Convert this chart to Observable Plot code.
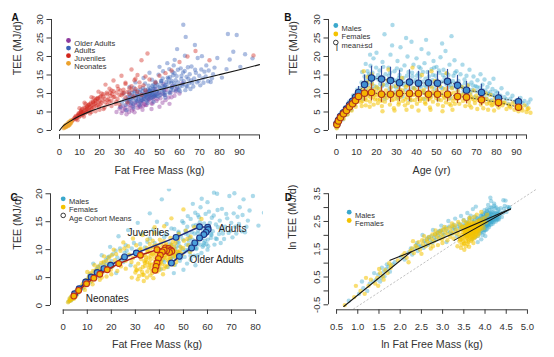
<!DOCTYPE html>
<html><head><meta charset="utf-8">
<script src="https://cdn.jsdelivr.net/npm/d3@7"></script>
<script src="https://cdn.jsdelivr.net/npm/@observablehq/plot@0.6"></script>
<style>
body{margin:0;background:#fff;}
#wrap{position:relative;width:554px;height:357px;overflow:hidden;}
.panel{position:absolute;}
</style></head><body><div id="wrap"></div>
<script>
// ---------- Panels A, C, D: individuals [fat free mass (kg), TEE (MJ/d)] ----------
const neonatesM = [[2.2,0.7],[2.8,0.9],[3.1,1.1],[3.4,1.0],[3.6,1.3],[3.9,1.4],[4.2,1.5],[4.4,1.8],[4.7,1.6],[5.0,2.0],[5.3,2.2],[5.6,2.4],[3.0,1.4],[4.0,1.9],[4.8,2.3],[5.8,2.0],[6.2,2.6],[4.6,1.4],[5.1,1.7],[5.4,2.6]];
const neonatesF = [[2.0,0.6],[2.5,0.8],[2.9,1.0],[3.2,0.9],[3.5,1.2],[3.7,1.5],[4.1,1.3],[4.3,1.6],[4.6,1.9],[4.9,1.7],[5.2,2.1],[5.5,1.9],[3.3,1.6],[4.5,2.2],[5.9,2.3],[2.6,1.2],[4.4,1.2],[5.0,1.5],[5.7,2.7]];
const juvenilesM = [[6.5,2.8],[7.5,3.4],[8.2,3.1],[9.0,4.0],[9.8,3.7],[10.5,4.6],[11.2,4.2],[12.0,5.1],[12.8,4.7],[13.5,5.6],[14.2,5.2],[15.0,6.2],[15.8,5.7],[16.5,6.8],[17.2,6.3],[18.0,7.4],[19.0,6.9],[20.0,8.0],[21.0,7.5],[22.5,8.6],[24.0,8.2],[25.5,9.4],[27.0,9.0],[28.5,10.2],[30.0,9.6],[32.0,11.0],[34.0,10.4],[36.0,12.0],[38.0,11.2],[40.0,13.0],[42.0,12.2],[45.0,13.8],[48.0,13.0],[50.0,14.8],[53.0,15.5],[56.0,16.2],[12.5,7.5],[16.0,9.0],[19.5,10.5],[23.0,12.4],[27.0,13.5],[31.0,14.8],[36.0,16.5],[41.0,19.0],[44.0,20.8],[60.0,18.5],[64.0,20.0],[68.0,21.5],[75.0,19.0],[97.0,20.3],[22.0,5.8],[28.0,7.2],[11.0,5.6],[14.5,6.9],[18.5,8.6],[26.0,10.8],[33.0,12.9],
[9.5,4.6],[10.8,5.2],[11.6,4.9],[13.0,6.1],[14.0,6.6],[15.4,7.2],[16.8,7.6],[17.8,8.2],[19.2,8.8],[20.6,9.2],[21.8,9.8],[23.6,10.2],[25.0,7.8],[26.4,9.8],[29.4,11.2],[31.5,10.0],[35.0,11.4],[37.5,13.6],[39.0,15.0],[43.0,14.6]];
const juvenilesF = [[6.0,2.5],[7.0,3.0],[7.8,3.6],[8.6,3.3],[9.4,4.2],[10.2,3.9],[11.0,4.8],[11.8,4.4],[12.6,5.4],[13.4,5.0],[14.0,5.9],[14.8,5.5],[15.6,6.5],[16.4,6.0],[17.4,7.1],[18.4,6.6],[19.5,7.6],[20.5,7.0],[21.5,8.1],[23.0,7.6],[24.5,8.6],[26.0,8.0],[27.5,9.1],[29.0,8.5],[31.0,9.5],[33.0,8.9],[35.0,9.9],[37.0,9.2],[39.0,10.4],[41.0,9.6],[43.0,10.8],[10.0,6.0],[13.0,7.2],[17.0,8.8],[21.0,10.0],[25.0,11.3],[29.0,12.0],[33.0,12.6],[38.0,14.0],[30.0,7.0],[34.0,7.6],[26.0,6.6],[9.0,2.8],[20.0,5.6],[15.2,4.6],[18.0,5.2],[22.5,6.2],[12.2,3.8],
[8.2,3.9],[9.8,4.6],[10.6,5.1],[11.4,5.8],[12.4,6.2],[13.8,6.4],[14.6,7.0],[15.8,7.6],[16.8,7.8],[18.0,8.0],[19.0,8.6],[20.2,9.0],[22.0,9.2],[23.8,9.8],[25.4,10.2],[27.0,10.6],[28.4,7.8],[30.4,10.8],[32.2,10.2],[36.0,11.0],[40.2,11.8],[16.0,5.0],[19.8,6.4],[24.0,7.0]];
const adultsM = [[41.5,8.2],[43.0,9.6],[44.2,11.1],[42.8,12.7],[45.6,8.7],[46.8,10.1],[47.5,11.3],[48.9,12.4],[46.2,13.7],[49.5,15.1],[47.8,9.4],[50.4,9.6],[51.2,10.9],[52.6,12.1],[53.4,13.1],[54.1,14.3],[51.8,16.0],[53.9,18.2],[52.2,11.6],[54.8,10.3],[55.3,10.1],[56.2,11.6],[57.4,12.7],[58.1,13.6],[56.8,14.9],[59.2,16.4],[57.6,19.1],[58.8,22.0],[55.9,12.9],[59.6,11.0],[60.3,10.6],[61.4,12.1],[62.2,13.3],[63.5,14.5],[61.8,15.7],[64.2,17.1],[62.7,20.2],[63.1,25.3],[61.9,28.6],[64.8,12.8],[60.9,13.9],[65.5,11.2],[66.4,12.9],[67.3,14.1],[68.2,15.6],[66.0,17.3],[69.1,19.6],[67.7,23.1],[69.6,13.4],[70.4,12.2],[71.6,14.1],[72.5,15.9],[73.4,17.6],[71.2,20.1],[74.3,13.3],[75.6,13.1],[76.8,15.2],[77.5,17.0],[78.9,19.6],[81.2,14.3],[83.5,16.6],[85.1,19.2],[86.9,21.3],[84.2,26.1],[90.4,17.2],[92.8,20.6],[88.6,25.8],[96.5,19.5],[50.8,13.4],[56.5,15.8],[60.6,16.8],[58.4,10.8],[63.9,11.9],[52.9,8.9],[57.1,17.6],
[45.2,10.8],[46.5,12.0],[47.9,13.2],[48.4,10.6],[49.8,11.8],[50.9,12.9],[51.6,14.1],[52.7,10.2],[53.8,11.8],[54.6,12.9],[55.2,14.4],[56.1,13.4],[56.9,10.9],[57.8,12.1],[58.6,14.7],[59.4,13.0],[60.1,11.8],[61.0,14.8],[61.7,12.6],[62.6,16.1],[63.4,12.0],[64.4,14.0],[65.1,15.2],[65.9,13.5],[66.9,11.9],[67.8,16.4],[68.8,13.0],[69.9,14.8],[70.9,16.5],[72.0,12.9],[73.1,14.6],[74.6,16.2],[76.2,14.1],[44.7,9.7],[48.6,9.3],[51.9,9.9],[55.7,11.0],[58.9,11.6],[62.9,10.9],[54.9,16.6]];
const adultsF = [[30.5,6.4],[31.2,7.5],[32.4,8.3],[33.1,6.9],[34.0,9.1],[34.8,7.8],[35.5,8.6],[36.2,10.2],[36.9,7.2],[37.6,9.4],[38.3,8.1],[39.0,10.8],[39.7,9.0],[40.4,7.6],[41.1,9.8],[41.8,11.5],[42.5,8.5],[43.2,10.4],[43.9,9.2],[44.6,12.1],[45.3,10.0],[46.0,8.9],[46.7,11.2],[47.4,9.6],[48.1,12.8],[48.8,10.5],[49.5,9.2],[50.2,11.6],[51.0,13.4],[52.0,10.8],[53.0,12.3],[54.5,14.0],[56.0,11.8],[57.5,15.5],[35.0,11.8],[38.0,13.0],[42.0,14.2],[45.0,15.6],[50.0,17.2],[33.5,5.5],[37.0,6.2],[40.0,6.8],[44.0,7.4],[47.0,7.8],[32.0,10.0],[36.5,8.9],[39.5,8.4],[41.5,10.6],[43.5,8.1],[45.8,9.5],[38.8,9.9],[42.2,9.0],[35.8,7.3],[40.8,8.8],[37.4,10.4],[44.9,10.9],[34.3,8.2],[46.4,9.9],
[33.8,7.9],[35.1,9.6],[36.4,8.3],[37.8,10.7],[38.6,7.8],[39.3,9.5],[40.1,10.3],[40.9,8.2],[41.6,9.4],[42.8,11.0],[43.6,9.7],[44.3,8.6],[45.6,11.4],[46.2,10.5],[47.1,9.1],[47.8,11.9],[48.6,9.8],[49.9,10.3],[51.6,11.9],[52.8,9.6],[36.0,9.5],[38.1,8.7],[40.6,11.1],[43.0,9.3],[44.8,10.6],[37.2,11.6],[46.9,12.4],[34.7,10.3]];
const olderM = [[40.5,6.5],[42.0,7.8],[43.5,6.9],[45.0,8.4],[46.5,7.3],[47.5,9.2],[48.5,8.0],[49.5,10.1],[50.5,8.7],[51.5,7.5],[52.5,9.6],[53.5,11.0],[54.5,8.9],[55.5,10.3],[56.5,12.0],[57.5,9.4],[58.5,11.2],[60.0,10.0],[44.0,10.2],[48.0,11.3],[52.0,12.6],[46.0,5.8],[50.0,6.4],[55.0,7.2],[61.5,12.8],
[45.5,9.5],[49.0,8.5],[51.0,9.9],[53.0,8.2],[56.0,9.0],[47.0,10.6],[52.5,10.8],[58.0,10.5]];
const olderF = [[28.5,5.0],[30.0,5.9],[31.0,4.7],[32.0,6.5],[33.0,5.5],[34.0,7.1],[35.0,6.1],[36.0,7.6],[37.0,5.8],[38.0,6.9],[39.0,8.0],[40.0,6.4],[41.0,7.4],[42.0,8.6],[43.0,6.9],[44.0,7.9],[45.0,9.2],[46.0,7.3],[47.0,8.4],[34.5,8.6],[38.5,9.3],[42.5,10.0],[33.5,4.4],[37.5,4.9],[41.5,5.6],[36.5,6.6],[39.5,7.2],[31.5,5.3],
[32.8,6.0],[35.6,6.8],[37.8,7.5],[40.6,7.9],[42.4,7.1],[44.6,8.4],[36.2,5.4],[39.2,6.1],[43.6,9.0],[46.6,8.9],[34.8,5.0],[41.8,6.6],[48.0,9.6],[30.5,6.3]];

// ---------- Panel B: individuals [age (yr), TEE (MJ/d)] ----------
const malesAge = [[0.1,0.8],[0.3,1.2],[0.5,1.6],[0.7,2.0],[0.9,2.4],[0.2,1.5],[0.6,2.8],[1.0,2.2],
[1.5,3.0],[2.0,3.5],[2.5,4.2],[3.0,3.8],[3.5,4.8],[4.0,5.0],[4.5,4.5],[5.0,5.8],[5.5,5.3],[6.0,6.5],[6.5,6.0],[7.0,7.2],[7.5,6.8],[8.0,8.0],[8.5,7.4],[9.0,8.6],[9.5,8.1],[10.0,9.3],[10.5,8.4],[11.0,10.2],[2.2,4.8],[4.2,6.2],[6.2,7.8],[8.3,9.5],[10.3,11.0],[3.2,3.0],[5.3,4.3],[7.4,5.6],[9.2,6.9],
[11.5,9.0],[12.0,11.5],[12.5,13.0],[13.0,10.0],[13.5,12.2],[14.0,14.6],[14.5,11.0],[15.0,13.5],[15.5,16.0],[16.0,12.3],[16.5,14.8],[17.0,17.5],[17.5,13.0],[18.0,15.6],[18.5,19.5],[19.0,12.0],[19.5,14.2],[20.0,21.0],[13.2,8.5],[15.8,9.8],[18.2,10.5],[16.8,20.5],[14.6,18.0],[12.8,15.8],[19.8,17.0],[17.6,11.3],
[20.5,11.5],[21,13.8],[21.5,16.2],[22,10.2],[22.5,14.5],[23,18.5],[23.5,12.4],[24,26.0],[24.5,15.2],[25,9.6],[25.5,13.0],[26,17.0],[26.5,11.2],[27,20.5],[27.5,14.0],[28,28.5],[28.5,12.0],[29,16.0],[29.5,10.4],[30,13.5],[30.5,18.8],[31,11.8],[31.5,15.0],[32,22.5],[32.5,12.6],[33,9.2],[33.5,14.2],[34,17.6],[34.5,11.0],[35,13.0],[35.5,20.0],[36,15.8],[36.5,10.8],[37,12.6],[37.5,24.0],[38,14.6],[38.5,17.8],[39,11.4],[39.5,13.6],[40,19.5],[40.5,9.8],[41,15.4],[41.5,12.0],[42,16.8],[42.5,22.0],[43,13.2],[43.5,10.6],[44,18.2],[44.5,14.0],[45,11.8],[45.5,15.8],[46,20.8],[46.5,12.8],[47,9.4],[47.5,16.6],[48,13.6],[48.5,18.8],[49,11.2],[49.5,14.8],[50,17.2],[50.5,12.2],[51,10.0],[51.5,15.6],[52,19.8],[52.5,13.2],[53,11.4],[53.5,16.4],[54,14.2],[54.5,21.5],[55,12.4],[55.5,10.6],[56,15.0],[56.5,17.8],[57,13.0],[57.5,25.5],[58,11.6],[58.5,14.8],[59,19.0],[59.5,12.8],[60,16.0],
[22.8,12.0],[26.2,14.8],[29.6,13.2],[33.8,12.2],[38.2,11.6],[41.8,14.6],[45.2,13.0],[49.2,12.4],[53.2,15.0],[57.2,12.2],[24.2,8.6],[30.8,8.8],[36.8,8.2],[43.8,8.5],[50.8,8.4],[56.8,8.8],[27.8,23.0],[34.8,25.0],[44.8,24.5],[52.8,23.5],
[60.5,11.0],[61,13.4],[61.5,9.6],[62,15.2],[62.5,12.0],[63,17.8],[63.5,10.4],[64,13.8],[64.5,11.6],[65,14.8],[65.5,9.2],[66,12.4],[66.5,16.4],[67,10.2],[67.5,13.0],[68,11.0],[68.5,14.6],[69,9.0],[69.5,12.0],[70,10.6],[70.5,13.6],[71,8.8],[71.5,11.6],[72,15.2],[72.5,10.0],[73,12.4],[73.5,9.2],[74,13.8],[74.5,10.8],[75,8.6],[75.5,11.8],[76,9.8],[76.5,12.8],[77,10.4],[77.5,8.2],[78,11.2],[78.5,14.0],[79,9.4],[79.5,10.6],[80,8.8],
[80.5,10.2],[81,8.0],[82,9.4],[82.5,11.4],[83,7.6],[84,9.0],[85,8.4],[85.5,10.0],[86,7.2],[87,8.6],[88,9.4],[89,7.8],[90,8.2],[91,7.0],[92,8.8],[93,7.4],[94,8.0],[95,6.8],[96,7.6],[97,8.4],
[15.2,12.8],[16.2,15.2],[17.2,13.8],[18.8,14.2],[20.8,15.0],[21.8,12.6],[23.8,14.0],[25.2,12.2],[26.8,15.6],[28.2,13.8],[29.8,11.6],[31.2,14.2],[32.2,16.4],[33.2,13.0],[35.2,14.8],[36.2,12.4],[37.8,15.6],[39.2,13.0],[40.2,14.8],[42.2,11.8],[43.2,15.8],[44.2,12.2],[46.2,14.6],[47.2,12.0],[48.2,15.0],[50.2,13.6],[51.2,16.2],[52.2,11.6],[54.2,13.2],[55.2,15.4],[56.2,11.8],[58.2,13.4],[59.2,15.6],[61.2,12.2],[63.2,11.4],[64.2,12.8],[66.2,11.0],[68.2,12.2],[70.2,11.8],[72.8,11.0],[75.8,10.0],[78.2,9.6],[23.4,17.2],[30.2,16.8],[41.2,17.2],[48.8,17.0]];
const femalesAge = [[0.1,0.6],[0.3,1.0],[0.5,1.4],[0.7,1.8],[0.9,2.1],[0.4,2.3],[0.8,1.3],
[1.2,2.6],[1.8,3.1],[2.3,3.6],[2.8,3.4],[3.3,4.2],[3.8,4.6],[4.3,4.2],[4.8,5.3],[5.3,5.0],[5.8,6.0],[6.3,5.6],[6.8,6.7],[7.3,6.2],[7.8,7.3],[8.3,6.8],[8.8,7.8],[9.3,7.2],[9.8,8.4],[10.3,7.8],[10.8,9.0],[2.6,4.4],[4.6,5.8],[6.6,7.4],[8.6,8.6],[10.6,10.0],[3.6,3.2],[5.6,4.4],[7.6,5.4],[9.6,6.4],
[11.2,8.2],[11.8,10.2],[12.3,7.6],[12.8,11.0],[13.3,9.2],[13.8,12.0],[14.3,8.6],[14.8,10.6],[15.3,13.0],[15.8,9.4],[16.3,11.4],[16.8,7.8],[17.3,10.2],[17.8,12.6],[18.3,9.0],[18.8,11.0],[19.3,8.4],[19.8,10.4],[12.6,6.6],[14.6,6.8],[16.6,6.4],[18.6,7.0],[15.6,14.5],[13.6,16.0],[17.6,15.2],
[20.2,9.6],[20.7,7.4],[21.2,11.2],[21.7,8.4],[22.2,10.4],[22.7,6.6],[23.2,12.4],[23.7,9.0],[24.2,7.8],[24.7,10.8],[25.2,8.8],[25.7,13.6],[26.2,9.8],[26.7,7.0],[27.2,11.6],[27.7,8.2],[28.2,10.2],[28.7,6.0],[29.2,9.4],[29.7,12.0],[30.2,8.6],[30.7,10.6],[31.2,7.6],[31.7,11.0],[32.2,9.2],[32.7,14.2],[33.2,8.0],[33.7,10.0],[34.2,6.8],[34.7,11.8],[35.2,9.0],[35.7,7.4],[36.2,12.8],[36.7,8.8],[37.2,10.4],[37.7,6.4],[38.2,9.6],[38.7,11.4],[39.2,8.2],[39.7,10.8],[40.2,7.2],[40.7,12.2],[41.2,9.4],[41.7,8.0],[42.2,10.6],[42.7,15.0],[43.2,8.6],[43.7,11.0],[44.2,7.6],[44.7,9.8],[45.2,12.6],[45.7,8.4],[46.2,10.2],[46.7,6.2],[47.2,9.0],[47.7,11.6],[48.2,7.8],[48.7,10.0],[49.2,13.4],[49.7,8.8],[50.2,10.8],[50.7,7.0],[51.2,9.6],[51.7,12.0],[52.2,8.2],[52.7,10.4],[53.2,6.6],[53.7,9.2],[54.2,11.2],[54.7,7.6],[55.2,10.0],[55.7,13.0],[56.2,8.6],[56.7,9.8],[57.2,6.8],[57.7,11.4],[58.2,8.0],[58.7,10.2],[59.2,7.2],[59.7,9.4],
[23.0,5.2],[29.0,5.4],[35.0,5.6],[41.0,5.4],[47.0,5.6],[53.0,5.2],[58.0,5.6],[26.0,16.5],[38.0,17.0],[47.5,16.0],[55.0,15.5],
[60.2,8.4],[60.8,10.6],[61.4,7.2],[62.0,9.6],[62.6,11.8],[63.2,8.0],[63.8,10.0],[64.4,6.6],[65.0,9.0],[65.6,12.2],[66.2,7.8],[66.8,9.8],[67.4,6.2],[68.0,8.6],[68.6,10.8],[69.2,7.4],[69.8,9.4],[70.4,5.8],[71.0,8.2],[71.6,10.2],[72.2,7.0],[72.8,9.0],[73.4,6.0],[74.0,8.4],[74.6,10.0],[75.2,7.2],[75.8,5.6],[76.4,8.0],[77.0,9.6],[77.6,6.8],[78.2,7.8],[78.8,5.4],[79.4,8.6],[80.0,7.0],[81.0,6.2],[82.0,8.0],[83.0,6.8],[84.0,7.6],[85.0,5.8],[86.0,7.0],[87.0,6.2],[88.0,7.4],[89.0,5.6],[90.0,6.6],[91.0,5.2],[92.0,6.2],[93.0,5.4],[94.0,6.8],[95.0,5.0],[96.0,6.0],[97.0,4.8],
[12.0,9.0],[13.0,8.0],[14.0,9.8],[15.0,8.2],[16.0,10.0],[17.0,9.0],[18.0,10.4],[19.0,9.6],[20.5,8.4],[21.5,9.8],[22.5,8.0],[24.0,9.6],[25.5,10.0],[27.0,9.2],[28.5,8.4],[30.0,9.8],[31.5,9.0],[33.0,10.8],[34.5,8.4],[36.0,9.6],[37.5,8.2],[39.0,9.8],[40.5,9.0],[42.0,8.6],[43.5,10.2],[45.0,9.0],[46.5,8.6],[48.0,10.4],[49.5,9.4],[51.0,8.4],[52.5,9.6],[54.0,8.8],[55.5,9.2],[57.0,10.0],[58.5,8.8],[60.0,9.4],[61.5,8.8],[63.0,9.2],[64.5,8.4],[66.0,8.8],[67.5,9.0],[69.0,8.2],[70.5,8.8],[72.0,8.2],[73.5,7.8],[75.0,8.6],[76.5,7.4],[78.0,7.0],[79.5,7.6],[81.5,7.0],[83.5,7.4],[86.5,6.6],[89.5,6.8],[92.5,6.0],[95.5,5.8],[31.0,7.0],[44.5,7.2],[56.5,7.2],[66.5,6.8],[20.0,11.8],[35.5,12.2],[50.5,12.4]];

// Panel B: mean ± sd by age cohort
const meanAges    = [0.2,1,2,3.5,5,6.5,8,9.5,11, 14,17.5,22.5,27,31.5,36.5,41,46,50.5,55.5,60.5,65,72.5,81,91];
const maleMeans   = [1.8,2.8,3.8,4.8,5.8,6.9,7.9,9.0,10.3, 12.4,14.2,13.9,13.5,12.9,13.1,12.8,12.9,12.8,13.3,12.2,10.9,10.3,8.8,7.8];
const maleSD      = [0.4,0.5,0.6,0.7,0.8,0.9,1.1,1.3,1.6, 2.6,3.2,3.4,3.6,3.4,3.3,3.2,3.2,3.1,3.2,2.7,2.4,2.2,1.6,1.2];
const femaleMeans = [1.6,2.6,3.5,4.5,5.4,6.4,7.2,8.1,9.2, 10.1,10.3,9.8,9.8,10.0,10.0,10.0,9.8,9.8,9.8,9.2,9.0,8.3,7.6,6.3];
const femaleSD    = [0.4,0.5,0.6,0.7,0.8,0.9,1.0,1.2,1.4, 2.2,2.3,2.2,2.3,2.2,2.2,2.2,2.1,2.1,2.1,1.9,1.8,1.6,1.4,1.0];

// Panel C: age cohort means [FFM, TEE]
const maleCohortMeans = [[4.7,2.1],[6.6,3.0],[9.3,4.2],[11.6,5.1],[14.1,5.9],[16.9,6.6],[19.7,7.2],[25.5,8.7],[30.4,9.4],[46.9,12.2],[56.7,14.1],[60.1,14.0],[60.3,13.6],[59.4,13.1],[58.5,12.7],[56.7,12.1],[54.7,11.2],[53.4,10.3],[48.3,8.8],[45.0,7.6]];
const femaleCohortMeans = [[4.4,1.7],[6.4,2.7],[9.7,3.9],[12.7,4.9],[15.2,5.6],[18.3,6.4],[23.1,7.5],[32.1,9.0],[39.0,10.0],[42.5,10.3],[43.8,10.2],[44.8,9.9],[45.2,9.7],[44.2,9.5],[43.0,9.8],[42.0,9.9],[41.2,9.6],[40.4,9.0],[39.6,8.4],[39.0,7.6],[38.6,7.0],[38.2,6.3]];
const cohortNames = ["Juveniles","Adults","Older Adults","Neonates"];
const cohortNameFFM = [35.4,70.4,63.8,18.3];
const cohortNameTEE = [13.1,13.8,8.2,1.25];

// Panel A: fitted curve [FFM, TEE]
const curveA = [[0,0],[2,1.3],[5,2.4],[10,3.9],[15,5.1],[20,6.1],[30,7.8],[40,9.5],[50,11.0],[60,12.4],[70,13.8],[80,15.1],[90,16.4],[100,17.8]];
// Panel D: fitted segments [ln FFM, ln TEE]
const segNeonate = [[0.67,-0.56],[2.25,1.40]];
const segJuvenile = [[1.76,1.10],[2.25,1.40],[4.60,2.95]];
const segOlder = [[3.27,1.82],[4.60,2.95]];
const refLineD = [[0.9,-0.65],[5.2,3.65]];

// ---------- styling ----------
const FONT = '"Liberation Sans", Arial, Helvetica, sans-serif';
const AXIS = "#3a3a3a", TXT = "#333";
const C_OLD = "#8e3a9e", C_ADU = "#3a62b8", C_JUV = "#d2261c", C_NEO = "#eca12c";
const C_M = "#3aa8cc", C_F = "#f4c300";
const X = d => d[0], Y = d => d[1];
const LX = d => Math.log(d[0]), LY = d => Math.log(d[1]);
const wrap = document.getElementById("wrap");

function place(svg, left, top) {
  const d = document.createElement("div");
  d.className = "panel"; d.style.left = left + "px"; d.style.top = top + "px";
  d.appendChild(svg); wrap.appendChild(d);
}

function rAxes(c) {
  const xt = c.xTicks, yt = c.yTicks;
  return [
    Plot.ruleY([c.yDom[0]], {x1: xt[0], x2: xt[xt.length - 1], stroke: AXIS, strokeWidth: 1}),
    Plot.ruleX([c.xDom[0]], {y1: yt[0], y2: yt[yt.length - 1], stroke: AXIS, strokeWidth: 1}),
    Plot.axisX({ticks: xt, tickSize: 4.5, tickPadding: 9, tickFormat: c.xFmt, label: null, stroke: AXIS, fill: TXT}),
    Plot.axisY({ticks: yt, tickSize: 4.5, tickPadding: 4.3, tickRotate: -90, tickFormat: c.yFmt, label: null, stroke: AXIS, fill: TXT}),
    Plot.text([c.xTitle], {frameAnchor: "bottom", dy: c.xTitleDy, fontSize: 10.7, fill: TXT}),
    Plot.text([c.yTitle], {frameAnchor: "left", rotate: -90, dx: c.yTitleDx, fontSize: 10.7, fill: TXT}),
    Plot.text([c.letter], {frameAnchor: "top-left", dx: c.letterDx, dy: c.letterDy, fontSize: 10, fontWeight: "bold", fill: "#111"})
  ];
}

function legend(items, dx, dy, step) {
  return items.flatMap((it, i) => {
    const m = [];
    if (it.bar) m.push(Plot.text(["|"], {frameAnchor: "top-left", dx, dy: dy + i * step, fontSize: 9, fill: "#222"}));
    m.push(Plot.dot([it.label], {frameAnchor: "top-left", dx, dy: dy + i * step, r: it.r || 2.4, fill: it.fill, stroke: it.stroke || "none", strokeWidth: 0.9}));
    m.push(Plot.text([it.label], {frameAnchor: "top-left", dx: dx + 5.8, dy: dy + i * step, textAnchor: "start", fontSize: 7.5, fill: "#333"}));
    return m;
  });
}

const style = {fontFamily: FONT, fontSize: "9.5px", color: TXT, background: "transparent", overflow: "visible"};
const dotOpts = (fill, op) => ({r: 2.2, fill, fillOpacity: op, stroke: "none"});

// ---------- Panel A ----------
{
  const xDom = [-4, 104], yDom = [-1.19, 31.08];
  const groups = [
    {data: olderM.concat(olderF), color: C_OLD},
    {data: adultsM.concat(adultsF), color: C_ADU},
    {data: juvenilesM.concat(juvenilesF), color: C_JUV},
    {data: neonatesM.concat(neonatesF), color: C_NEO}
  ];
  const svg = Plot.plot({
    width: 277, height: 178, marginLeft: 51, marginRight: 10, marginTop: 15, marginBottom: 43.6,
    x: {domain: xDom}, y: {domain: yDom}, style,
    marks: [
      ...groups.map(g => Plot.dot(g.data, {x: X, y: Y, ...dotOpts(g.color, 0.42)})),
      Plot.line(curveA, {x: X, y: Y, stroke: "#151515", strokeWidth: 1.1, curve: "natural"}),
      ...rAxes({xDom, yDom, xTicks: d3.range(0, 101, 10), yTicks: d3.range(0, 31, 5),
        xFmt: d => d === 100 ? "" : d, yFmt: d => d,
        xTitle: "Fat Free Mass (kg)", xTitleDy: 38.6, yTitle: "TEE (MJ/d)", yTitleDx: -34,
        letter: "A", letterDx: -40, letterDy: -1.7}),
      ...legend([
        {label: "Older Adults", fill: C_OLD}, {label: "Adults", fill: C_ADU},
        {label: "Juveniles", fill: C_JUV}, {label: "Neonates", fill: C_NEO}], 17, 25, 7.6)
    ]
  });
  place(svg, 0, 0);
}

// ---------- Panel B ----------
{
  const xDom = [-4, 99], yDom = [-1.19, 31.08];
  const means = meanAges.map((a, i) => ({age: a, m: maleMeans[i], msd: maleSD[i], f: femaleMeans[i], fsd: femaleSD[i]}));
  const svg = Plot.plot({
    width: 277, height: 178, marginLeft: 51, marginRight: 20, marginTop: 15, marginBottom: 43.6,
    x: {domain: xDom}, y: {domain: yDom}, style,
    marks: [
      Plot.dot(malesAge, {x: X, y: Y, ...dotOpts(C_M, 0.42)}),
      Plot.dot(femalesAge, {x: X, y: Y, ...dotOpts(C_F, 0.55)}),
      Plot.line(means, {x: "age", y: "m", stroke: "#333", strokeWidth: 0.8, strokeDasharray: "1,2"}),
      Plot.line(means, {x: "age", y: "f", stroke: "#333", strokeWidth: 0.8, strokeDasharray: "1,2"}),
      Plot.ruleX(means, {x: "age", y1: d => d.m - d.msd, y2: d => d.m + d.msd, stroke: "#34509e", strokeWidth: 1.2}),
      Plot.ruleX(means, {x: "age", y1: d => d.f - d.fsd, y2: d => d.f + d.fsd, stroke: "#b44a22", strokeWidth: 1.2}),
      Plot.dot(means, {x: "age", y: "m", r: 3.2, fill: "#3f8fd2", stroke: "#1c2f78", strokeWidth: 1.1}),
      Plot.dot(means, {x: "age", y: "f", r: 3.2, fill: "#f5b400", stroke: "#b0361a", strokeWidth: 1.1}),
      ...rAxes({xDom, yDom, xTicks: d3.range(0, 96, 5), yTicks: d3.range(0, 31, 5),
        xFmt: d => d % 10 === 0 ? d : "", yFmt: d => d,
        xTitle: "Age (yr)", xTitleDy: 38.6, yTitle: "TEE (MJ/d)", yTitleDx: -35,
        letter: "B", letterDx: -44.3, letterDy: -1.7}),
      ...legend([
        {label: "Males", fill: C_M}, {label: "Females", fill: C_F},
        {label: "mean±sd", fill: "#fff", stroke: "#222", r: 2.3, bar: true}], 7.3, 10, 8.5)
    ]
  });
  place(svg, 277, 0);
}

// ---------- Panel C ----------
{
  const xDom = [-5.3, 83.3], yDom = [-0.8, 20.8];
  const males = neonatesM.concat(juvenilesM, adultsM, olderM);
  const females = neonatesF.concat(juvenilesF, adultsF, olderF);
  const names = cohortNames.map((n, i) => ({n, x: cohortNameFFM[i], y: cohortNameTEE[i]}));
  const svg = Plot.plot({
    width: 277, height: 182, marginLeft: 50, marginRight: 14, marginTop: 13.8, marginBottom: 47.5,
    x: {domain: xDom}, y: {domain: yDom}, style,
    marks: [
      Plot.dot(males, {x: X, y: Y, ...dotOpts(C_M, 0.42), clip: true}),
      Plot.dot(females, {x: X, y: Y, ...dotOpts(C_F, 0.55), clip: true}),
      Plot.line(maleCohortMeans, {x: X, y: Y, stroke: "#1e2a7a", strokeWidth: 1.5}),
      Plot.dot(maleCohortMeans, {x: X, y: Y, r: 2.9, fill: "#4aa0dc", stroke: "#1e3585", strokeWidth: 1.1}),
      Plot.line(femaleCohortMeans, {x: X, y: Y, stroke: "#a8201a", strokeWidth: 1.5}),
      Plot.dot(femaleCohortMeans, {x: X, y: Y, r: 2.9, fill: "#f5b800", stroke: "#c0301a", strokeWidth: 1.1}),
      Plot.text(names, {x: "x", y: "y", text: "n", fontSize: 10, fill: "#222"}),
      ...rAxes({xDom, yDom, xTicks: d3.range(0, 81, 10), yTicks: d3.range(0, 21, 5),
        xFmt: d => d, yFmt: d => d,
        xTitle: "Fat Free Mass (kg)", xTitleDy: 37.5, yTitle: "TEE (MJ/d)", yTitleDx: -33,
        letter: "C", letterDx: -40, letterDy: 4.5}),
      ...legend([
        {label: "Males", fill: C_M}, {label: "Females", fill: C_F},
        {label: "Age Cohort Means", fill: "#fff", stroke: "#222", r: 2.3}], 12.7, 9.5, 8.3)
    ]
  });
  place(svg, 0, 175);
}

// ---------- Panel D ----------
{
  const xDom = [0.31, 5.19], yDom = [-0.68, 3.64];
  const males = neonatesM.concat(juvenilesM, adultsM, olderM);
  const females = neonatesF.concat(juvenilesF, adultsF, olderF);
  const svg = Plot.plot({
    width: 277, height: 182, marginLeft: 51, marginRight: 19, marginTop: 14.3, marginBottom: 47.7,
    x: {domain: xDom}, y: {domain: yDom}, style,
    marks: [
      Plot.line(refLineD, {x: X, y: Y, stroke: "#bbb", strokeWidth: 0.9, strokeDasharray: "1.5,2.5"}),
      Plot.dot(males, {x: LX, y: LY, ...dotOpts(C_M, 0.42), clip: true}),
      Plot.dot(females, {x: LX, y: LY, ...dotOpts(C_F, 0.55), clip: true}),
      Plot.line(segNeonate, {x: X, y: Y, stroke: "#151515", strokeWidth: 1.1}),
      Plot.line(segJuvenile, {x: X, y: Y, stroke: "#151515", strokeWidth: 1.1}),
      Plot.line(segOlder, {x: X, y: Y, stroke: "#151515", strokeWidth: 1.1}),
      ...rAxes({xDom, yDom, xTicks: d3.range(0.5, 5.01, 0.5), yTicks: d3.range(-0.5, 3.51, 0.5),
        xFmt: d => d.toFixed(1), yFmt: d => (Math.round(d * 2) % 2 !== 0 ? d.toFixed(1) : ""),
        xTitle: "ln Fat Free Mass (kg)", xTitleDy: 37.7, yTitle: "ln TEE (MJ/d)", yTitleDx: -36,
        letter: "D", letterDx: -43.7, letterDy: 4}),
      ...legend([{label: "Males", fill: C_M}, {label: "Females", fill: C_F}], 20.7, 22.4, 8.3)
    ]
  });
  place(svg, 277, 175);
}
</script></body></html>
